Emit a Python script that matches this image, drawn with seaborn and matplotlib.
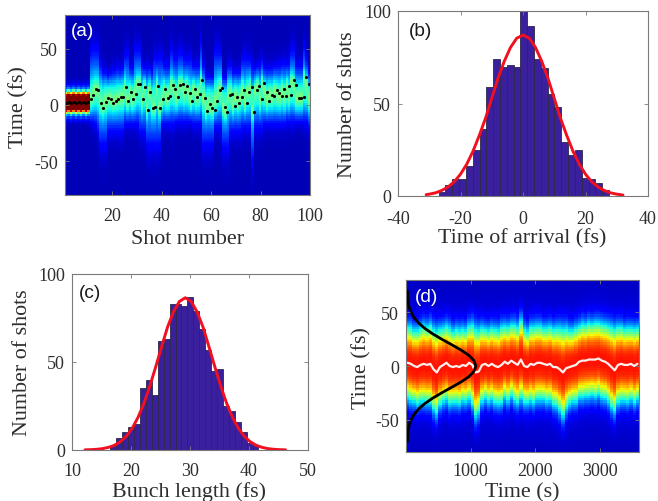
import numpy as np
import pandas as pd
import matplotlib
matplotlib.use("Agg")
import matplotlib.pyplot as plt
import seaborn as sns

# ---------- panel (a): values read per shot ----------
a_dots = [2,3,2,3,2,3,2,3,2,3,
          5,9,14,13,2,-3,3,6,5,2,4,5,7,7,16,4,12,5,10,19,
          19,5,16,-4,12,-3,-2,17,-3,5,14,6,8,18,14,7,18,19,12,17,
          11,4,14,7,10,22,6,-5,1,-3,-4,4,13,15,-2,-6,9,10,-1,7,
          2,7,13,2,12,16,-6,13,17,5,20,12,4,9,8,13,11,8,14,8,
          17,9,22,18,6,6,7,25,19,6]
a_top = [17]*10 + [40,42,42,42,30,25,25,22,24,26,26,28,26,28,38,38,28,28,42,42,
         42,30,28,28,28,25,35,35,35,35,30,30,30,42,35,35,40,40,35,35,
         35,35,30,30,30,48,30,20,20,20,20,40,40,40,20,20,30,30,25,25,
         25,25,35,35,35,35,28,28,30,30,35,28,28,28,28,30,30,30,32,32,
         32,32,42,42,30,30,30,45,35,25]
a_bottom = [-11]*10 + [-10,-10,-12,-18,-28,-28,-28,-18,-18,-18,-18,-18,-18,-18,-12,-12,-12,-12,-12,-12,
            -18,-18,-18,-28,-28,-28,-28,-28,-28,-12,-12,-12,-12,-12,-12,-10,-10,-10,-10,-10,
            -10,-10,-12,-12,-12,-12,-28,-28,-28,-28,-28,-15,-15,-15,-30,-30,-30,-18,-18,-18,
            -18,-18,-15,-15,-15,-15,-40,-15,-15,-15,-15,-12,-12,-12,-12,-12,-12,-12,-12,-12,
            -10,-10,-10,-10,-10,-10,-10,-10,-10,-15]
a_xticks = [20,40,60,80,100]
a_yticks = [-50,0,50]

# ---------- panel (b) ----------
b_edges_lo, b_edges_hi = -27.0, 27.5
b_counts = [2,6,9,9,16,25,36,59,74,70,71,70,103,92,74,69,55,48,29,22,25,10,9,7,3]
b_fit_t = [-31,-30,-28,-26,-24,-22,-20,-18,-16,-14,-12,-10,-8,-6,-4,-2,0,
           2,4,6,8,10,12,14,16,18,20,22,24,26,28,30,32]
b_fit_n = [0.7,1,1.7,3,4.9,7.7,11.8,17.2,24.2,32.7,42,52.8,63.6,72.8,80.3,85.3,87,
           85.3,80.3,72.8,63.6,52.8,42,32.7,24.2,17.2,11.8,7.7,4.9,3,1.7,1,0.5]

# ---------- panel (c) ----------
c_edges_lo, c_edges_hi = 16.5, 41.6
c_counts = [2,7,10,13,15,35,40,31,62,63,83,83,82,87,79,69,57,45,46,25,22,16,10,4,2]
c_fit_t = [12.2,13.2,14.2,15.2,16.2,17.2,18.2,19.2,20.2,21.2,22.2,23.2,24.2,25.2,26.2,27.2,28.2,29.2,
           30.2,31.2,32.2,33.2,34.2,35.2,36.2,37.2,38.2,39.2,40.2,41.2,42.2,43.2,44.2,45.2,46.2]
c_fit_n = [0.1,0.2,0.4,0.8,1.5,2.7,4.7,7.8,12.3,18.6,26.6,36.4,47.4,58.8,69.9,78.5,84.4,86.5,
           84.4,78.5,69.9,58.8,47.4,36.4,26.6,18.6,12.3,7.8,4.7,2.7,1.5,0.8,0.4,0.2,0.1]

# ---------- panel (d) ----------
d_time = [0,50,100,150,200,250,300,350,400,450,500,550,600,650,700,750,800,850,900,950,
          1000,1050,1100,1150,1200,1250,1300,1350,1400,1450,1500,1550,1600,1650,1700,1750,1800,1850,1900,1950,
          2000,2050,2100,2150,2200,2250,2300,2350,2400,2450,2500,2550,2600,2650,2700,2750,2800,2850,2900,2950,
          3000,3050,3100,3150,3200,3250,3300,3350,3400,3450,3500,3550]
d_centre = [3,2,0,-1,1,2,1,2,-3,-6,-1,1,3,0,-1,0,-1,1,0,3,
            1,-6,-5,1,2,0,2,0,-1,1,4,2,5,3,1,6,0,-1,2,1,
            3,3,2,1,2,-1,-1,-3,-6,-2,-1,0,1,4,5,5,6,6,6,7,
            5,4,2,-1,-4,1,2,1,1,2,0,2]
d_width = [32,33,32,33,33,34,34,35,36,37,34,33,33,34,32,33,33,32,32,33,
           36,39,37,33,31,32,32,33,33,34,32,33,32,34,34,35,33,32,33,34,
           33,33,32,33,33,34,35,37,39,36,33,32,33,32,33,32,33,32,33,32,
           33,33,34,36,37,34,33,32,33,32,33,32]
d_prof_t = [-70,-65,-60,-55,-50,-45,-40,-35,-30,-25,-20,-15,-10,-5,0,
            5,10,15,20,25,30,35,40,45,50,55,60,65,70]
d_prof_x = [22,25,32,48,78,125,195,290,410,550,700,845,970,1050,1080,
            1050,970,845,700,550,410,290,195,125,78,48,32,25,22]
d_xticks = [1000,2000,3000]
d_yticks = [-50,0,50]

BAR = "#3a209c"
EDGE = "#2c2748"
SPINE = "#7a7a7a"
TEXT = "#2e2e2e"

sns.set_theme(style="ticks")
plt.rcParams["font.family"] = ["Liberation Serif", "DejaVu Serif"]
plt.rcParams["axes.unicode_minus"] = False
W, H = 658, 502
fig = plt.figure(figsize=(W/100, H/100), dpi=100)

def make_ax(l, t, r, b):
    return fig.add_axes([l/W, 1-b/H, (r-l)/W, (b-t)/H])

ax_a = make_ax(65, 16, 310, 196)
ax_b = make_ax(398, 12, 648, 197)
ax_c = make_ax(72, 275, 308, 451)
ax_d = make_ax(406, 281, 639, 453)

# time grid shared by both maps
t_rows = np.linspace(79, -79, 80)

def tpos(t):
    return (80 - np.asarray(t, dtype=float)) / 2.0

# ---- (a) map
dots = np.array(a_dots, float)
cols = []
for i, c in enumerate(dots):
    if i < 10:
        d = t_rows - c
        v = 0.05 + 0.92*np.exp(-(np.abs(d)/9.0)**4) + 0.25*np.exp(-(np.abs(d)/15.0)**4)
    else:
        band = 0.4*c + 0.6*8
        d = t_rows - band
        su = max(a_top[i]-band, 10)*1.1
        sl = max(band-a_bottom[i], 10)*1.1
        s = np.where(d > 0, su, sl)
        v = (0.05 + 0.27*np.exp(-(np.abs(d)/s)**2.4)
             + 0.10*np.exp(-(np.abs(d)/17.0)**3)
             + 0.08*np.exp(-((t_rows-c)/6.0)**2))
    cols.append(v)
a_df = pd.DataFrame(np.array(cols).T, index=t_rows, columns=np.arange(1, 101))
sns.heatmap(a_df, ax=ax_a, cmap="jet", vmin=0, vmax=1, cbar=False,
            xticklabels=False, yticklabels=False)
shots = np.arange(1, 101)
sns.scatterplot(x=(shots-1)/0.99+0.5, y=tpos(dots), ax=ax_a, color="black", s=5,
                linewidth=0, legend=False)
ax_a.set_xlim(0, 100); ax_a.set_ylim(80, 0)
ax_a.set_xticks([(s-1)/0.99 for s in a_xticks]); ax_a.set_xticklabels(a_xticks, rotation=0)
ax_a.set_yticks(tpos(a_yticks)); ax_a.set_yticklabels(a_yticks, rotation=0)

# ---- (d) map
cols = []
for c, w in zip(d_centre, d_width):
    d = np.abs(t_rows - c)
    cols.append(0.05 + 0.78*np.exp(-(d/w)**3) + 0.06*np.exp(-(d/60.0)**2))
d_df = pd.DataFrame(np.array(cols).T, index=t_rows, columns=d_time)
sns.heatmap(d_df, ax=ax_d, cmap="jet", vmin=0, vmax=1, cbar=False,
            xticklabels=False, yticklabels=False)
n_d = len(d_time)
def dxpos(x):
    return np.asarray(x, float)/3600.0*n_d
sns.lineplot(x=dxpos(d_time)+0.5, y=tpos(d_centre), ax=ax_d, color="#fff0ee", lw=1.6,
             sort=False, estimator=None, legend=False)
sns.lineplot(x=dxpos(d_prof_x), y=tpos(d_prof_t), ax=ax_d, color="black", lw=2,
             sort=False, estimator=None, legend=False)
ax_d.set_xlim(0, n_d); ax_d.set_ylim(80, 0)
ax_d.set_xticks(dxpos(d_xticks)); ax_d.set_xticklabels(d_xticks, rotation=0)
ax_d.set_yticks(tpos(d_yticks)); ax_d.set_yticklabels(d_yticks, rotation=0)

# ---- histograms
def hist(ax, counts, lo, hi, ft, fn, xlim, xticks):
    counts = list(counts)
    w = (hi-lo)/len(counts)
    centres = lo + w*(np.arange(len(counts))+0.5)
    sns.histplot(x=centres, weights=counts, bins=len(counts), binrange=(lo, hi), ax=ax,
                 color=BAR, edgecolor=EDGE, linewidth=0.6, alpha=1, legend=False)
    sns.lineplot(x=ft, y=fn, ax=ax, color="#f01020", lw=2.1, sort=False, estimator=None, legend=False)
    ax.set_xlim(*xlim); ax.set_ylim(0, 100)
    ax.set_xticks(xticks); ax.set_yticks([0, 50, 100])

hist(ax_b, b_counts, b_edges_lo, b_edges_hi, b_fit_t, b_fit_n, (-40, 40), [-40,-20,0,20,40])
hist(ax_c, c_counts, c_edges_lo, c_edges_hi, c_fit_t, c_fit_n, (10, 50), [10,20,30,40,50])

# ---- common styling
labels = {
    ax_a: ("Shot number", (188, 239), "Time (fs)", (19, 107), "(a)", (83, 32), "white", 9),
    ax_b: ("Time of arrival (fs)", (522, 239), "Number of shots", (347, 105), "(b)", (421, 32), "#1a1a1a", 10),
    ax_c: ("Bunch length (fs)", (189, 492), "Number of shots", (23, 363), "(c)", (90, 293), "#1a1a1a", 9),
    ax_d: ("Time (s)", (522, 493), "Time (fs)", (362, 368), "(d)", (427, 297), "white", 7),
}
for ax, (xl, xp, yl, yp, tag, tp, tc, xpad) in labels.items():
    for s in ax.spines.values():
        s.set_visible(True); s.set_color(SPINE); s.set_linewidth(0.8)
    ax.tick_params(axis="both", direction="in", length=3, width=0.6, color=SPINE,
                   labelsize=13, labelcolor=TEXT, pad=5, top=True, right=True)
    ax.tick_params(axis="x", pad=xpad)
    ax.set_axisbelow(False)
    ax.set_xlabel(xl, fontsize=15.8, color=TEXT, va="center", visible=True)
    ax.set_ylabel(yl, fontsize=15.8, color=TEXT, va="center", visible=True)
    ax.xaxis.set_label_coords(xp[0]/W, 1-xp[1]/H, transform=fig.transFigure)
    ax.yaxis.set_label_coords(yp[0]/W, 1-yp[1]/H, transform=fig.transFigure)
    fig.text(tp[0]/W, 1-tp[1]/H, tag, color=tc, fontsize=13.7, family=["Liberation Sans", "DejaVu Sans"],
             ha="center", va="center", zorder=10)

fig.savefig("out.png", dpi=100)
